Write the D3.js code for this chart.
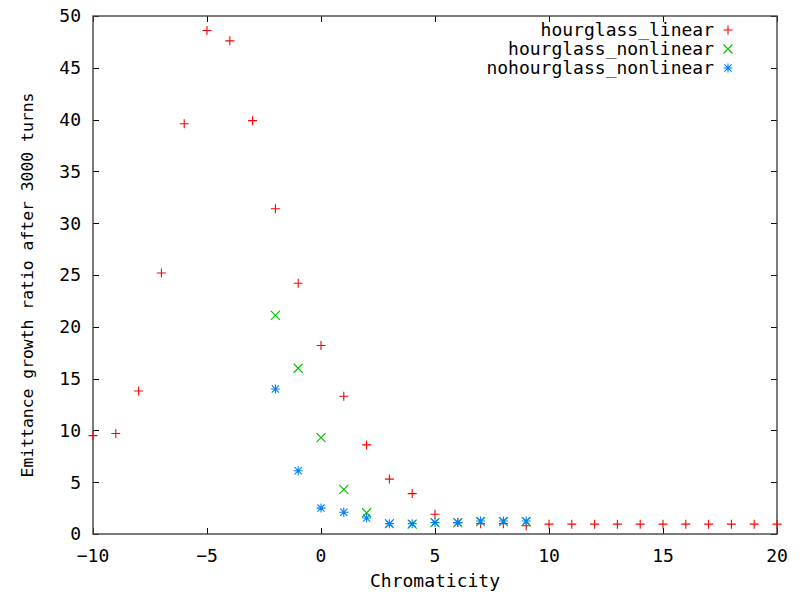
<!DOCTYPE html>
<html>
<head>
<meta charset="utf-8">
<script src="https://cdn.jsdelivr.net/npm/d3@7"></script>
<style>
  html, body { margin: 0; padding: 0; background: #fff; }
  svg { display: block; }
  text { font-family: "DejaVu Sans Mono", "Liberation Mono", monospace; fill: #000; }
</style>
</head>
<body>
<svg id="chart" width="808" height="605"></svg>
<script>
// Chromaticity scan (x) shared by each series
const chromLinear = d3.range(-10, 21);             // -10 .. 20
const chromNonlinear = d3.range(-2, 10);           // -2 .. 9

// Emittance growth ratio after 3000 turns
const hourglassLinear = [
  9.5, 9.7, 13.8, 25.2, 39.6, 48.6, 47.6, 39.9, 31.4, 24.2,
  18.2, 13.3, 8.6, 5.3, 3.9, 1.9, 1.1, 1.0, 1.0, 0.8,
  0.95, 0.95, 0.95, 0.95, 0.95, 0.95, 0.95, 0.95, 0.95, 0.95, 0.95
];
const hourglassNonlinear = [21.1, 16.0, 9.3, 4.3, 2.05, 1.0, 0.95, 1.1, 1.1, 1.2, 1.2, 1.2];
const nohourglassNonlinear = [14.0, 6.1, 2.5, 2.1, 1.55, 1.0, 1.0, 1.1, 1.1, 1.25, 1.25, 1.25];

const xTicks = [-10, -5, 0, 5, 10, 15, 20];
const yTicks = [0, 5, 10, 15, 20, 25, 30, 35, 40, 45, 50];

const seriesNames = ["hourglass_linear", "hourglass_nonlinear", "nohourglass_nonlinear"];
const seriesColors = ["#ff0000", "#00c000", "#0080ff"];
const seriesShapes = ["plus", "cross", "star"];

const series = [
  { name: seriesNames[0], xs: chromLinear, ys: hourglassLinear },
  { name: seriesNames[1], xs: chromNonlinear, ys: hourglassNonlinear },
  { name: seriesNames[2], xs: chromNonlinear, ys: nohourglassNonlinear }
];

const svg = d3.select("#chart");
const plotL = 93, plotR = 777, plotT = 16, plotB = 534;

const x = d3.scaleLinear().domain([-10, 20]).range([plotL, plotR]);
const y = d3.scaleLinear().domain([0, 50]).range([plotB, plotT]);

// Marker path generators, centred at 0,0
const r = 4.5;
const shapes = {
  plus: `M${-r},0H${r}M0,${-r}V${r}`,
  cross: `M${-r},${-r}L${r},${r}M${-r},${r}L${r},${-r}`,
  star: `M${-r},0H${r}M0,${-r}V${r}M${-r*0.8},${-r*0.8}L${r*0.8},${r*0.8}M${-r*0.8},${r*0.8}L${r*0.8},${-r*0.8}`
};

// Tick marks on all four sides, pointing inward
const tickLen = 6;
const tickG = svg.append("g").attr("stroke", "#000").attr("stroke-width", 1);
xTicks.forEach(t => {
  const px = Math.round(x(t)) + 0.5;
  tickG.append("line").attr("x1", px).attr("x2", px).attr("y1", plotB).attr("y2", plotB - tickLen);
  tickG.append("line").attr("x1", px).attr("x2", px).attr("y1", plotT).attr("y2", plotT + tickLen);
});
yTicks.forEach(t => {
  const py = Math.round(y(t)) + 0.5;
  tickG.append("line").attr("x1", plotL).attr("x2", plotL + tickLen).attr("y1", py).attr("y2", py);
  tickG.append("line").attr("x1", plotR).attr("x2", plotR - tickLen).attr("y1", py).attr("y2", py);
});

// Plot frame
svg.append("rect")
  .attr("x", plotL).attr("y", plotT)
  .attr("width", plotR - plotL).attr("height", plotB - plotT)
  .attr("fill", "none").attr("stroke", "#444").attr("stroke-width", 1.4);

// Tick labels
svg.append("g").selectAll("text").data(xTicks).join("text")
  .attr("x", d => x(d)).attr("y", 562)
  .attr("text-anchor", "middle").attr("font-size", 18)
  .text(d => d < 0 ? "\u2212" + Math.abs(d) : d);

svg.append("g").selectAll("text").data(yTicks).join("text")
  .attr("x", 81).attr("y", d => y(d)).attr("dy", "0.35em")
  .attr("text-anchor", "end").attr("font-size", 18)
  .text(d => d);

// Axis titles
svg.append("text")
  .attr("x", (plotL + plotR) / 2).attr("y", 587)
  .attr("text-anchor", "middle").attr("font-size", 18)
  .text("Chromaticity");

svg.append("text")
  .attr("transform", "translate(33,285) rotate(-90)")
  .attr("text-anchor", "middle").attr("font-size", 16.4)
  .text("Emittance growth ratio after 3000 turns");

// Data points
series.forEach((s, i) => {
  svg.append("g")
    .attr("stroke", seriesColors[i]).attr("stroke-width", 1.1).attr("fill", "none")
    .selectAll("path").data(s.ys).join("path")
    .attr("transform", (d, j) => `translate(${x(s.xs[j])},${y(d)})`)
    .attr("d", shapes[seriesShapes[i]]);
});

// Legend
const legendRows = [30, 49, 68];
series.forEach((s, i) => {
  svg.append("text")
    .attr("x", 714).attr("y", legendRows[i]).attr("dy", "0.35em")
    .attr("text-anchor", "end").attr("font-size", 18)
    .text(s.name);
  svg.append("path")
    .attr("transform", `translate(728,${legendRows[i]})`)
    .attr("d", shapes[seriesShapes[i]])
    .attr("stroke", seriesColors[i]).attr("stroke-width", 1.1).attr("fill", "none");
});
</script>
</body>
</html>
